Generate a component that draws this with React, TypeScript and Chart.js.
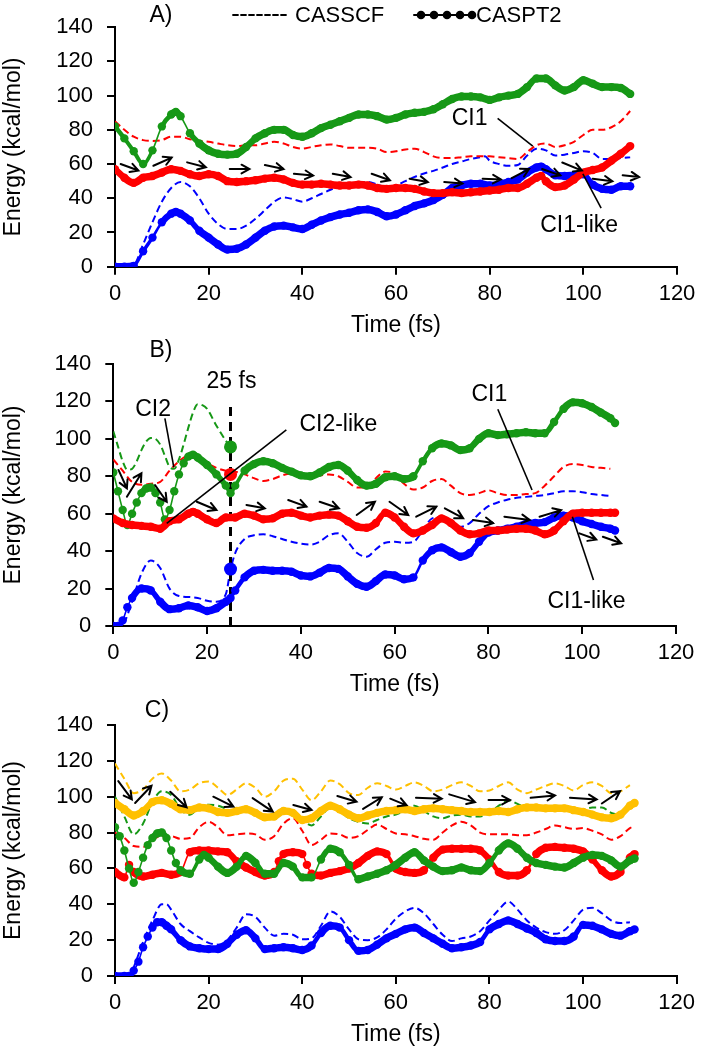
import React, { useEffect, useRef } from 'react';
import { Chart, registerables } from 'chart.js';
Chart.register(...registerables);

const FONT = '"Liberation Sans", Arial, sans-serif';
Chart.defaults.font.family = FONT;
Chart.defaults.color = '#000';

const RED = '#ff0000';
const BLUE = '#0000ff';
const GREEN = '#169816';
const GOLD = '#ffc000';

const xTicks = [0, 20, 40, 60, 80, 100, 120];
const yTicks = [0, 20, 40, 60, 80, 100, 120, 140];

type P = [number, number];

// ---------- Panel A ----------
const aGreenPT2: P[] = [[0,82],[2,75],[4,67.5],[6,60],[8,68],[10,82],[12,89],[13,90.5],[14,88],[16,78],[18,72],[20,68],[22,66],[24,65.5],[26,66],[28,70],[30,75],[32,78],[34,80],[36,80],[38,77],[40,76],[42,78],[44,81],[46,83],[48,85],[50,87],[52,89],[54,89],[56,88],[58,86],[60,87],[62,89],[64,90],[66,90.5],[68,92],[70,95],[72,98],[74,99.5],[76,99.5],[78,99],[80,97.5],[82,99],[84,100],[86,101],[88,105],[90,110],[92,110],[94,106],[96,103],[98,105],[100,109],[102,107],[104,105],[106,105],[108,104.5],[110,101]];
const aRedPT2: P[] = [[0,57],[2,52],[4,49],[6,52],[8,53],[10,55],[12,57],[14,56],[16,54],[18,53],[20,54],[22,53],[24,50],[26,49.5],[28,50],[30,50.5],[32,51.5],[34,52],[36,51],[38,49],[40,48],[42,48],[44,48.5],[46,48],[48,47.5],[50,47.5],[52,48],[54,47.5],[56,46],[58,45.5],[60,46],[62,46],[64,45.5],[66,44],[68,43],[70,43],[72,43.5],[74,43],[76,43.5],[78,44],[80,44.5],[82,45],[84,46],[86,46],[88,48.5],[90,52],[91,53],[92,50],[94,46.5],[96,47.5],[98,51],[100,55],[102,56.5],[104,58],[106,62],[108,66],[110,70.5]];
const aBluePT2: P[] = [[0,0],[2,0],[4,0.5],[6,9],[8,17],[10,26],[12,31],[13,32],[14,31],[16,27],[18,21],[20,17],[22,13],[24,10],[26,10.5],[28,13],[30,17],[32,21],[34,23.5],[36,24],[38,23],[40,22],[42,24.5],[44,27],[46,29],[48,30.5],[50,31.5],[52,33],[54,33.5],[56,32],[58,29.5],[60,30.5],[62,33],[64,35.5],[66,37],[68,39],[70,42],[72,46],[74,47.5],[76,48.5],[78,48.5],[80,47.5],[82,48],[84,49.5],[86,51],[88,55],[90,58],[91,58.5],[92,57],[94,53.5],[96,53],[98,53.5],[100,54],[102,48],[104,45.5],[106,45],[108,47],[110,47]];
const aBlueSCF: P[] = [[0,0],[2,0],[4,1],[6,13],[8,26],[10,38],[12,46],[14,49.5],[16,47],[18,40],[20,31],[22,25],[24,22],[26,22],[28,24],[30,28],[32,33],[34,38],[36,40.5],[38,39.5],[40,38],[42,40],[44,42.5],[46,45],[48,47],[50,48],[52,49.5],[54,49.5],[56,48],[58,46.5],[60,47.5],[62,50],[64,52.5],[66,54.5],[68,56],[70,58],[72,60],[74,61.5],[76,63],[78,64],[79,64.5],[80,62],[82,60],[84,59],[86,59.5],[88,65],[90,69],[92,68],[94,65],[96,65.5],[98,66.5],[100,67.5],[102,66.5],[104,63],[106,63],[108,63.5],[110,64]];
const aRedSCF: P[] = [[0,85],[2,80],[4,76],[6,74],[8,73.5],[10,74],[12,76],[14,76],[16,74.5],[18,73.5],[20,73],[22,72],[24,71],[26,70.5],[28,71],[30,71],[32,72],[34,73],[36,72],[38,70],[40,69],[42,70],[44,71],[46,71.5],[48,70.5],[50,69.5],[52,69.5],[54,69.5],[56,69],[58,67],[60,67.5],[62,68.5],[64,69],[66,67],[68,64.5],[70,63.5],[72,63.5],[74,64],[76,64.5],[78,64.5],[80,64.5],[82,64],[84,63.5],[86,63],[88,67],[90,71],[92,72],[94,70],[96,71],[98,73],[100,77],[102,80],[104,80],[106,81.5],[108,85],[110,91]];
const aArrows = [[1.2,60,5,56.2],[8.2,59,12.1,63.8],[15.4,61,19.4,58.1],[24.5,57.1,28.7,57.1],[32,59.4,36,57.1],[38.2,54.3,42.3,53.3],[46.5,54.3,50.3,52.4],[54.8,54.3,58.7,50.5],[62.9,51.4,66.8,49.5],[70.3,49.5,74.2,48.6],[78.5,51.4,82.4,51],[84.7,51.8,88.4,57.1],[91.2,57.1,95.1,53.4],[95.5,60.9,99.7,56.2],[102,51.4,106.2,49.9],[108.4,53.4,111.9,52.4]];
const aNotes = [{ text: 'CI1', x: 75.7, y: 86.7 }, { text: 'CI1-like', x: 99.1, y: 24 }];
const aLeaders = [[81.7,86.7,89.2,70.5],[99.9,54.3,103.8,34.3]];

// ---------- Panel B ----------
const bGreenPT2: P[] = [[0,82],[1,72],[2,62],[3,54],[4,60],[5,66],[6,71],[7,73.5],[8,74],[9,71],[10,66],[11,57],[12,62],[13,72],[14,81],[15,87],[16,90.5],[17,91.5],[18,90],[20,86],[22,81],[24,75],[25,71],[26,75],[28,83],[30,86.5],[32,88],[34,87],[36,84.5],[38,82.5],[40,80.5],[42,80],[44,82],[46,85],[48,86],[50,83],[52,78],[54,75],[56,76],[58,79.5],[60,80],[62,78.5],[64,80],[66,88],[68,95],[70,97.5],[72,96.5],[74,94],[76,95],[78,100],[80,103],[82,102],[84,102.5],[86,103],[88,103.5],[90,103],[92,103],[94,109],[96,116],[98,119.5],[100,119],[102,117],[104,114],[106,111],[107,108.5]];
const bGreenSCF: P[] = [[0,104],[1,96],[2,88],[3,83.5],[4,84],[5,88],[6,94],[7,98.5],[8,100.5],[9,100],[10,97],[11,91],[12,85],[13,84],[14,89],[15,97],[16,106],[17,114],[18,118.5],[19,118],[20,116],[22,107],[24,99],[25,95.7]];
const bRedSCF: P[] = [[0,89],[2,83],[4,77],[6,75.5],[8,76],[10,77],[12,83],[14,88],[16,91],[18,89.5],[20,87],[22,84.5],[24,83],[26,82.5],[28,81],[30,79],[32,77.5],[34,78.5],[36,80.5],[38,81.5],[40,81],[42,80.5],[44,80.5],[46,81],[48,80],[50,77],[52,74],[54,74],[56,79],[58,82.5],[60,81.5],[62,76],[64,73],[66,74],[68,77.5],[70,78.5],[72,75],[74,71],[76,70],[78,71],[80,72.5],[82,71],[84,70],[86,70],[88,70.5],[90,71],[92,75],[94,80],[96,85],[98,86.5],[100,86],[102,85],[104,84.5],[106,84]];
const bRedPT2: P[] = [[0,57.5],[2,55],[4,54],[6,53.5],[8,53],[10,52],[12,56],[14,57],[16,60],[17,61],[18,60],[20,57],[22,55],[24,58],[26,58],[28,60],[30,59],[32,57],[34,57.5],[36,60],[38,60.5],[40,59],[42,58],[44,59],[46,59.5],[48,59],[50,56],[52,53],[54,52.5],[56,55],[58,60.5],[60,58],[62,53],[64,49.5],[66,51],[68,54],[70,57.5],[72,55],[74,51],[76,49],[78,49.5],[80,51],[82,51],[84,51.5],[86,52],[88,52],[90,51],[92,49],[94,51],[96,56],[98,60],[100,60.5],[102,60.5],[104,60.5],[106,60.5],[107,60.5]];
const bBluePT2: P[] = [[0,0],[1,0],[2,3],[3,10],[4,15],[6,20],[8,19],[10,13],[12,9],[14,9.5],[16,11],[18,10],[20,8],[22,9.5],[24,13],[25,15],[26,19],[28,26],[30,29.5],[32,30],[34,29.5],[36,29.5],[38,29],[40,27],[42,26.5],[44,28.5],[46,31],[48,30.5],[50,26.5],[52,22.5],[54,21],[56,24],[58,27.5],[60,27],[62,25],[64,26],[66,35],[68,40.5],[70,42],[72,39.5],[74,37],[76,39],[78,45],[80,50],[82,51],[84,52],[86,53],[88,54.5],[90,55],[92,55.5],[94,58],[96,59],[98,58],[100,56],[102,54.5],[104,53],[106,52],[107,51]];
const bBlueSCF: P[] = [[0,0],[2,1],[4,13],[6,28],[8,35],[10,31],[12,20],[14,16],[16,15.5],[18,15],[20,13.5],[22,13],[24,17],[25,30],[26,39],[28,46.5],[30,48.5],[32,49],[34,48],[36,46.5],[38,45],[40,44],[42,43.5],[44,45],[46,48.5],[48,49.5],[50,45],[52,39],[54,37],[56,41],[58,44.5],[60,45],[62,44.5],[64,45],[66,51],[68,57.5],[70,58],[72,55],[74,53],[76,55],[78,60],[80,64],[82,66],[84,67.5],[86,68.5],[88,69],[90,69.5],[92,70],[94,71],[96,72],[98,72],[100,71.5],[102,70.5],[104,70],[106,69.5]];
const b25Dots: P[] = [[25,95.7],[25,81],[25,30.4]];
const b25Colors = [GREEN, RED, BLUE];
const b25Line: P[] = [[25,0],[25,118]];
const bArrows = [[1.1,83.4,2.9,73.6],[2.9,69.1,6,81.6],[8.9,75.3,11.4,66.4],[17.8,66.4,22,62],[28.4,64.7,32.3,62.9],[37.3,67.3,41.2,63.8],[44,66.4,48.1,62.9],[51.9,59.3,55.8,66.4],[58.9,66.4,62.9,59.3],[64.6,58.4,68.9,63.8],[70.7,62.9,74.6,57.6],[76.7,56.7,81,55],[83.4,58.4,88.8,56.7],[90.9,58.4,95.5,61.9],[99.4,49.5,103,46.2],[104.4,47.7,108.3,44.2]];
const bNotes = [{ text: '25 fs', x: 25.2, y: 130.5 }, { text: 'CI2', x: 8.5, y: 115.8 }, { text: 'CI2-like', x: 48, y: 107.4 }, { text: 'CI1', x: 80.2, y: 123.5 }, { text: 'CI1-like', x: 100.9, y: 13 }];
const bLeaders = [[11,111,12.9,84.9],[36.9,104.8,11.4,54.9],[82,115.8,89.3,72.7],[97.9,58.4,102.4,24.6]];

// ---------- Panel C ----------
const cGoldPT2: P[] = [[0,96.5],[2,93],[4,89.5],[6,92],[8,97],[10,98],[12,96],[14,93],[16,92.5],[18,94],[20,93.5],[22,91.5],[24,91],[26,92],[28,93],[30,91],[32,88.5],[34,89],[36,92],[38,91],[40,87],[42,88],[44,92],[46,95],[48,93],[50,90],[52,88],[54,89.5],[56,91],[58,92],[60,92.5],[62,93],[64,92],[66,93],[68,93.5],[70,93],[72,92.5],[74,92],[76,91.5],[78,91.5],[80,91.5],[82,92],[84,91.5],[86,93],[88,94],[90,94],[92,93.5],[94,93.5],[96,93.5],[98,92.5],[100,91.5],[102,90],[104,88.5],[106,88],[108,90],[110,95],[111,96.5]];
const cGoldSCF: P[] = [[0,118.5],[2,110],[4,102],[6,104],[8,110],[10,113],[12,109],[14,103],[16,104],[18,107.5],[20,108.5],[22,105],[24,101],[26,104],[28,107.5],[30,105],[32,100],[34,103],[36,109],[38,110],[40,104],[42,98],[44,103],[46,109],[48,107],[50,102],[52,101],[54,105],[56,107.5],[58,106],[60,104],[62,106],[64,108],[66,106],[68,103],[70,104],[72,106.5],[74,108],[76,106],[78,103],[80,103.5],[82,106],[84,108],[86,104],[88,102],[90,104],[92,106],[94,107.5],[96,106],[98,103.5],[100,106.5],[102,108],[104,106],[106,102],[108,103],[110,106.5]];
const cGreenSCF: P[] = [[0,100],[2,89],[4,79],[6,85],[8,97],[10,103],[12,101],[14,93],[16,90],[18,94],[20,95.5],[22,95],[24,93],[26,91],[28,92],[30,92],[32,88.5],[34,89],[36,92],[38,91],[40,87],[42,84],[44,89],[46,94],[48,92],[50,88],[52,86],[54,85],[56,87],[58,89],[60,90],[62,92.5],[64,95],[66,92],[68,89],[70,88],[72,89.5],[74,90],[76,89],[78,89],[80,91],[82,95],[84,98],[86,96],[88,93.5],[90,93],[92,94],[94,95],[96,94],[98,93],[100,93],[102,94],[104,94],[106,91],[108,90],[110,94],[111,95.5]];
const cRedSCF: P[] = [[0,80],[2,77],[4,72.5],[6,72],[8,76],[10,78],[12,78],[14,76.5],[16,77],[18,83],[20,86],[22,83],[24,78.5],[26,79],[28,79.5],[30,79],[32,76],[34,78],[36,85],[38,88],[40,81],[42,73],[44,76],[46,79.5],[48,79],[50,77],[52,78],[54,81.5],[56,84.5],[58,82],[60,79.5],[62,79],[64,78],[66,76.5],[68,76],[70,80],[72,84],[74,86],[76,84],[78,80],[80,79],[82,79],[84,79],[86,78.5],[88,78.5],[90,80],[92,82],[94,84],[96,83],[98,82],[100,82.5],[102,81],[104,79],[106,76],[108,78],[110,82.5],[111,83.5]];
const cRedPT2: P[] = [[0,58],[2,55],[3,62],[4,58],[6,55.5],[8,56.5],[10,57.5],[12,56.5],[14,58],[16,69],[18,70],[20,70],[22,69.5],[24,69],[26,64],[28,60.5],[30,58],[32,56],[34,58],[35,64],[36,68],[38,69],[40,68],[41,62],[42,57],[44,56],[46,57.5],[48,58.5],[50,60],[52,63],[54,67],[56,69.5],[58,68],[60,60],[62,58],[64,57.5],[66,59],[68,66],[70,70.5],[72,71],[74,71],[76,71],[78,70],[80,65],[82,58],[84,56],[86,56],[88,59],[90,68],[92,71.5],[94,72],[96,71.5],[98,71],[100,69.5],[102,65],[104,59],[106,55.5],[108,58],[110,66],[111,68]];
const cGreenPT2: P[] = [[0,83],[1,78],[2,70],[3,60],[4,52],[5,58],[6,66],[7,73],[8,77],[9,79.5],[10,80],[11,77],[12,70],[13,63],[14,59],[16,57],[18,65],[19,67.5],[20,66],[22,61],[24,57.5],[26,61],[28,67],[30,63],[32,57],[34,57],[36,63],[38,61],[40,55],[42,55],[44,65],[46,71],[48,69],[50,62],[52,54],[54,55.5],[56,57],[58,59],[60,62],[62,66],[64,69],[66,64.5],[68,61],[70,58.5],[72,59],[74,60.5],[76,59],[78,58.5],[80,63],[82,70],[84,74],[86,71],[88,66],[90,63],[92,62],[94,61],[96,60.5],[98,63],[100,66],[102,67.5],[104,67],[106,64.5],[108,61],[110,64.5],[111,65.5]];
const cBluePT2: P[] = [[0,0],[2,0],[3,0],[4,3],[5,8],[6,16],[7,22],[8,27],[9,30],[10,30],[11,28],[12,26],[14,20],[16,16.5],[18,15.5],[20,15],[22,15],[24,18],[26,23],[28,25.5],[30,21],[32,15],[34,15.5],[36,16],[38,15.5],[40,14.5],[42,17],[44,24],[46,28],[48,27],[50,20],[52,14],[54,14.5],[56,17.5],[58,21],[60,23.5],[62,26],[64,27],[66,24],[68,21],[70,18],[72,15.5],[74,16],[76,17],[78,19],[80,26],[82,29],[84,31],[86,29],[88,26.5],[90,24],[92,20.5],[94,19.5],[96,19.5],[98,22],[100,28.5],[102,28],[104,26],[106,23.5],[108,22.5],[110,25],[111,26]];
const cBlueSCF: P[] = [[0,0],[2,0],[3,0],[4,5],[6,19],[8,31],[10,40],[11,40],[12,37],[14,29],[16,25],[18,21.5],[20,18.5],[22,17.5],[24,20],[26,27],[28,34.5],[30,33],[32,27],[34,22.5],[36,23.5],[38,23],[40,20.5],[42,21],[44,28],[46,36],[48,33],[50,26],[52,20.5],[54,20],[56,21.5],[58,26],[60,32],[62,36],[64,38],[66,35],[68,29],[70,23],[72,19.5],[74,21],[76,22],[78,25],[80,31],[82,37],[84,41.5],[86,37],[88,31],[90,27],[92,24.5],[94,23.5],[96,25.5],[98,31],[100,37],[102,38],[104,35],[106,31],[108,29.5],[110,30]];
const cArrows = [[0.7,108.7,3.6,98.5],[4.3,96.5,7.8,106.1],[11.8,102.8,15.3,94.1],[21,100,25.3,94.5],[29.4,99.2,33.7,91.7],[38.1,95.4,42,92.6],[47.5,100.4,51.6,97.2],[53,93.2,57,99.7],[58.8,98.9,62.3,95.2],[64.3,99.4,69.8,98.9],[71.4,101.3,76.9,97],[79.8,98.1,84.4,98.1],[88.8,99.4,94,100.7],[97.2,99.4,102.9,98.5],[104,96.2,107.9,103.1]];

const toXY = (d: P[]) => d.map(([x, y]) => ({ x, y }));

// thick beaded band where the curve is flat, thin connector where it is steep
const bandWidth = (c: any) => {
  const dy = Math.abs(c.p1.parsed.y - c.p0.parsed.y) / Math.max(1, Math.abs(c.p1.parsed.x - c.p0.parsed.x));
  if (dy <= 2) return 7.5;
  if (dy >= 5) return 1.6;
  return 7.5 - ((dy - 2) / 3) * 5.9;
};

const pt2 = (d: P[], color: string) => ({
  data: toXY(d),
  borderColor: color,
  backgroundColor: color,
  pointBackgroundColor: color,
  pointBorderWidth: 0,
  pointRadius: 4.2,
  pointHoverRadius: 4.2,
  borderWidth: 7.5,
  cubicInterpolationMode: 'monotone',
  segment: { borderWidth: bandWidth },
});

const scf = (d: P[], color: string) => ({
  data: toXY(d),
  borderColor: color,
  backgroundColor: color,
  borderWidth: 2,
  borderDash: [7, 4],
  pointRadius: 0,
  cubicInterpolationMode: 'monotone',
});

function overlay(panel: string, labelX: number, arrows: number[][], notes: any[], leaders: number[][], legend: boolean) {
  return {
    id: 'overlay' + panel,
    afterDatasetsDraw(chart: any) {
      const { ctx } = chart;
      const xs = chart.scales.x;
      const ys = chart.scales.y;
      const px = (v: number) => xs.getPixelForValue(v);
      const py = (v: number) => ys.getPixelForValue(v);
      ctx.save();
      ctx.strokeStyle = '#000';
      ctx.fillStyle = '#000';
      ctx.setLineDash([]);
      ctx.lineWidth = 1.6;
      leaders.forEach(([x0, y0, x1, y1]) => {
        ctx.beginPath();
        ctx.moveTo(px(x0), py(y0));
        ctx.lineTo(px(x1), py(y1));
        ctx.stroke();
      });
      ctx.lineWidth = 2;
      ctx.lineCap = 'round';
      arrows.forEach(([x0, y0, x1, y1]) => {
        const a0 = px(x0), b0 = py(y0), a1 = px(x1), b1 = py(y1);
        const ang = Math.atan2(b1 - b0, a1 - a0);
        const h = 9;
        ctx.beginPath();
        ctx.moveTo(a0, b0);
        ctx.lineTo(a1, b1);
        ctx.moveTo(a1 - h * Math.cos(ang - 0.5), b1 - h * Math.sin(ang - 0.5));
        ctx.lineTo(a1, b1);
        ctx.lineTo(a1 - h * Math.cos(ang + 0.5), b1 - h * Math.sin(ang + 0.5));
        ctx.stroke();
      });
      ctx.font = '23px ' + FONT;
      ctx.textAlign = 'center';
      ctx.textBaseline = 'middle';
      notes.forEach((n) => ctx.fillText(n.text, px(n.x), py(n.y)));
      ctx.fillText(panel + ')', labelX, 16);
      if (legend) {
        ctx.lineWidth = 1.8;
        ctx.setLineDash([5, 3]);
        ctx.beginPath();
        ctx.moveTo(233, 15);
        ctx.lineTo(289, 15);
        ctx.stroke();
        ctx.setLineDash([]);
        ctx.lineWidth = 2;
        ctx.beginPath();
        ctx.moveTo(414, 15);
        ctx.lineTo(473, 15);
        ctx.stroke();
        [421, 434, 447, 460, 472].forEach((cx) => {
          ctx.beginPath();
          ctx.arc(cx, 15, 4.3, 0, Math.PI * 2);
          ctx.fill();
        });
        ctx.font = '22px ' + FONT;
        ctx.textAlign = 'left';
        ctx.fillText('CASSCF', 295, 16);
        ctx.fillText('CASPT2', 476, 16);
      }
      ctx.restore();
    },
  };
}

function makeConfig(p: any) {
  return {
    type: 'line',
    data: { datasets: p.datasets },
    options: {
      animation: false,
      responsive: false,
      maintainAspectRatio: false,
      events: [],
      layout: { padding: { top: p.areaTop, right: 705 - p.right, bottom: 0, left: 0 } },
      plugins: { legend: { display: false }, tooltip: { enabled: false } },
      scales: {
        x: {
          type: 'linear',
          min: 0,
          max: 120,
          afterBuildTicks: (s: any) => { s.ticks = xTicks.map((v) => ({ value: v })); },
          afterFit: (s: any) => { s.height = p.H - p.areaBottom; },
          ticks: { font: { size: 22 }, padding: 6, maxRotation: 0, color: '#000' },
          grid: { drawOnChartArea: false, drawTicks: true, tickLength: 8, color: '#000', lineWidth: 2 },
          border: { display: true, color: '#000', width: 2 },
          title: { display: true, text: 'Time (fs)', font: { size: 23 }, color: '#000', padding: { top: 0, bottom: p.titlePad } },
        },
        y: {
          type: 'linear',
          min: 0,
          max: 140,
          afterBuildTicks: (s: any) => { s.ticks = yTicks.map((v) => ({ value: v })); },
          afterFit: (s: any) => { s.width = p.left; },
          ticks: { font: { size: 22 }, padding: 14, color: '#000' },
          grid: { drawOnChartArea: false, drawTicks: true, tickLength: 8, color: '#000', lineWidth: 2 },
          border: { display: true, color: '#000', width: 2 },
          title: { display: true, text: 'Energy (kcal/mol)', font: { size: 23 }, color: '#000', padding: { top: 0, bottom: 0 } },
        },
      },
    },
    plugins: [p.plugin],
  };
}

const panels = [
  {
    key: 'A', top: 0, H: 340, areaTop: 23.3, areaBottom: 266.7, left: 115, right: 677, titlePad: 0.5,
    datasets: [pt2(aRedPT2, RED), pt2(aBluePT2, BLUE), pt2(aGreenPT2, GREEN), scf(aRedSCF, RED), scf(aBlueSCF, BLUE)],
    plugin: overlay('A', 161, aArrows, aNotes, aLeaders, true),
  },
  {
    key: 'B', top: 335, H: 365, areaTop: 29, areaBottom: 291, left: 113.3, right: 676, titlePad: 1.2,
    datasets: [
      { data: toXY(b25Dots), showLine: false, pointRadius: 6.5, pointBorderWidth: 0, pointBackgroundColor: b25Colors, backgroundColor: b25Colors },
      pt2(bRedPT2, RED), pt2(bBluePT2, BLUE), pt2(bGreenPT2, GREEN),
      { data: toXY(b25Line), borderColor: '#000', borderWidth: 3, borderDash: [9, 6], pointRadius: 0 },
      scf(bGreenSCF, GREEN), scf(bRedSCF, RED), scf(bBlueSCF, BLUE),
    ],
    plugin: overlay('B', 161, bArrows, bNotes, bLeaders, false),
  },
  {
    key: 'C', top: 695, H: 355, areaTop: 30, areaBottom: 281, left: 115, right: 676.7, titlePad: 1.2,
    datasets: [pt2(cBluePT2, BLUE), pt2(cGoldPT2, GOLD), pt2(cGreenPT2, GREEN), pt2(cRedPT2, RED), scf(cGoldSCF, GOLD), scf(cGreenSCF, GREEN), scf(cRedSCF, RED), scf(cBlueSCF, BLUE)],
    plugin: overlay('C', 157, cArrows, [], [], false),
  },
];

function Panel({ p }: { p: any }) {
  const ref = useRef<HTMLCanvasElement>(null);
  useEffect(() => {
    const chart = new Chart(ref.current as HTMLCanvasElement, makeConfig(p) as any);
    return () => chart.destroy();
  }, []);
  return (
    <canvas
      ref={ref}
      width={705}
      height={p.H}
      style={{ position: 'absolute', left: 0, top: p.top, width: 705, height: p.H, display: 'block' }}
    />
  );
}

export default function App() {
  useEffect(() => {
    document.body.style.margin = '0';
    document.body.style.overflow = 'hidden';
  }, []);
  return (
    <div style={{ position: 'fixed', left: 0, top: 0, width: 705, height: 1050, background: '#fff' }}>
      {panels.map((p) => (
        <Panel key={p.key} p={p} />
      ))}
    </div>
  );
}
